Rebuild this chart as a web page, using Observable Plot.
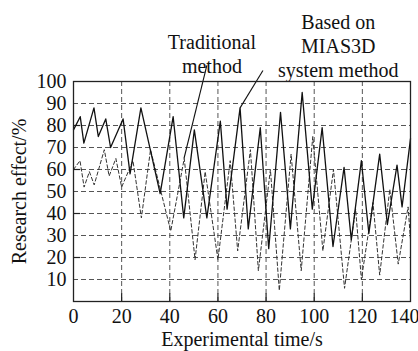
<!DOCTYPE html>
<html><head><meta charset="utf-8">
<script src="https://cdn.jsdelivr.net/npm/d3@7"></script>
<script src="https://cdn.jsdelivr.net/npm/@observablehq/plot@0.6"></script>
<style>
body{margin:0;background:#fff}
#chart svg{display:block}
#chart svg, #chart svg text, #chart svg tspan{font-family:"Liberation Serif","Times New Roman",serif !important;}
</style>
</head><body><div id="chart"></div>
<script>
// MIAS3D system method (solid line)
const mias3dTime = [0,2.8,4.3,8.5,10.3,13.4,15.4,20.6,23.5,28,36,41.4,45.8,50.2,55.4,61,63.8,69.2,72.6,77.6,81.1,86,90.1,95,99.2,103.3,107.8,112.4,115.4,119.6,122.7,127.2,130.4,134.4,136.5,140];
const mias3dEffect = [78,84,72,88,75,83,70,83,58,88,49,84,38,78,38,82,42,88,33,79,24,86,33,95,42,79,25,61,28,64,31,67,35,62,43,74];
// Traditional method (dashed line)
const tradTime = [0,2.7,4.4,6.6,8.6,12.8,14.8,17.6,20,24.7,28.2,32,40.4,46,50.5,54.7,60,65.1,68.2,73.5,76.8,81.8,85.5,90.4,94.6,99.4,103.6,108,112.6,117.2,119.6,124.4,127.2,131.4,134.9,139,140];
const tradEffect = [60,64,52,59,53,69,57,65,52,64,38,69,32,65,19,59,19,64,23,69,14,60,5,67,14,75,23,60,6,42,10,45,12,51,17,43,28];

const xTicks = [0,20,40,60,80,100,120];
const xLastTick = [140];
const yTicks = [10,20,30,40,50,60,70,80,90,100];
const xGrid = [20,40,60,80,100,120];
const yGrid = [10,20,30,40,50,60,70,80,90];
const yInTicks = [20,40,60,80];

// annotation labels (data coordinates) and leader lines
const annoText = ["Traditional\nmethod", "Based on\nMIAS3D\nsystem method"];
const annoX = [57.5, 110];
const annoY = [112.7, 116.4];
const leaderX1 = [55.4, 78.7];
const leaderY1 = [107.3, 105];
const leaderX2 = [45.9, 69.2];
const leaderY2 = [65, 88];

const mias3d = mias3dTime.map((t, i) => ({t, v: mias3dEffect[i]}));
const trad = tradTime.map((t, i) => ({t, v: tradEffect[i]}));
const anno = annoText.map((s, i) => ({s, x: annoX[i], y: annoY[i]}));
const leaders = leaderX1.map((x1, i) => ({x1, y1: leaderY1[i], x2: leaderX2[i], y2: leaderY2[i]}));

const chart = Plot.plot({
  width: 418,
  height: 351,
  marginLeft: 73,
  marginRight: 8,
  marginTop: 81,
  marginBottom: 50,
  style: {fontFamily: "Liberation Serif, Times New Roman, serif", fontSize: "20px", background: "#fff", color: "#111"},
  x: {domain: [0, 140]},
  y: {domain: [0, 100]},
  marks: [
    Plot.ruleX(xGrid, {stroke: "#555", strokeDasharray: "5,3", strokeWidth: 1}),
    Plot.ruleY(yGrid, {stroke: "#555", strokeDasharray: "5,3", strokeWidth: 1}),
    Plot.ruleX(xGrid, {y1: 0, y2: 3.5, stroke: "#222", strokeWidth: 1.2}),
    Plot.ruleY(yInTicks, {x1: 0, x2: 3, stroke: "#222", strokeWidth: 1.2}),
    Plot.line(trad, {x: "t", y: "v", stroke: "#333", strokeWidth: 1, strokeDasharray: "3.5,2.5"}),
    Plot.line(mias3d, {x: "t", y: "v", stroke: "#111", strokeWidth: 1.3}),
    Plot.link(leaders, {x1: "x1", y1: "y1", x2: "x2", y2: "y2", stroke: "#111", strokeWidth: 1.1, clip: false}),
    Plot.text(anno, {x: "x", y: "y", text: "s", fontSize: 20, lineHeight: 1.2, lineAnchor: "middle", textAnchor: "middle", fill: "#111", clip: false}),
    Plot.frame({stroke: "#222", strokeWidth: 1.3}),
    Plot.axisX(xTicks, {tickSize: 0, tickPadding: 7, label: "Experimental time/s", labelAnchor: "center", labelOffset: 44, labelArrow: false}),
    Plot.axisX(xLastTick, {tickSize: 0, tickPadding: 7, dx: -6, label: null}),
    Plot.axisY(yTicks, {tickSize: 0, tickPadding: 7, label: "Research effect/%", labelAnchor: "center", labelOffset: 62, labelArrow: false})
  ]
});
document.getElementById("chart").appendChild(chart);
</script>
</body></html>
